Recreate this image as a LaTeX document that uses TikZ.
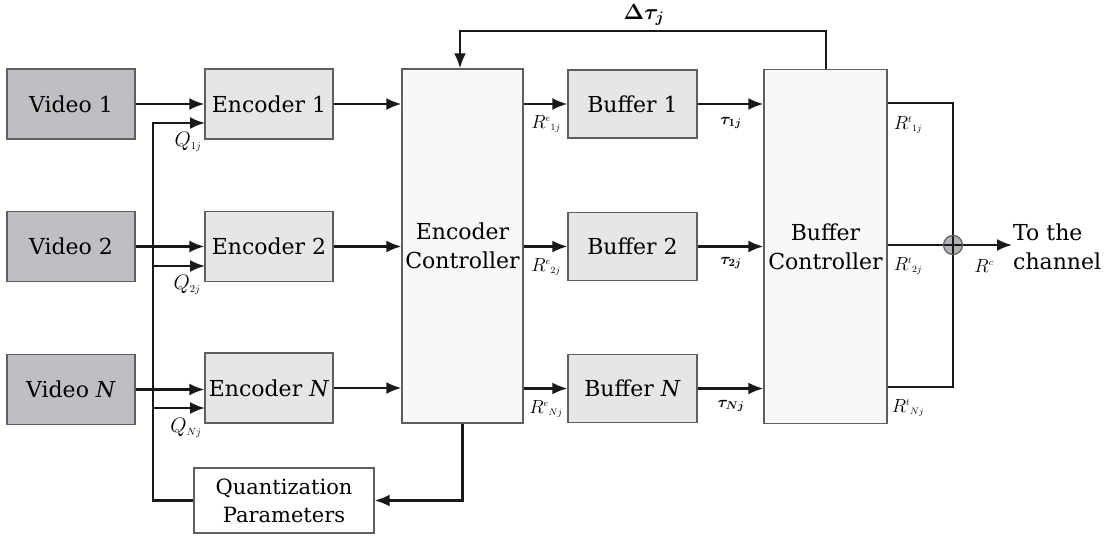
\RequirePackage{fix-cm}
\documentclass[tikz,border=0pt]{standalone}
\usepackage{bm}
\usepackage{fontspec}
\setmainfont{DejaVu Serif}
\usetikzlibrary{arrows.meta,calc}
\definecolor{vidgray}{RGB}{190,191,195}
\definecolor{encgray}{RGB}{229,230,232}
\definecolor{ctrlwhite}{RGB}{248,248,246}
\definecolor{boxline}{RGB}{95,95,95}
\definecolor{sumgray}{RGB}{178,178,182}
\newcommand\bigtxt{\fontsize{22}{29}\selectfont}
\newcommand\qtxt{\fontsize{21}{25}\selectfont}
\newcommand\rtxt{\fontsize{19}{22}\selectfont}
\newcommand\ttxt{\fontsize{16}{20}\selectfont}
\begin{document}
\begin{tikzpicture}[x=1pt,y=-1pt,
  conn/.style={line width=2.2pt, draw=black!90},
  arr/.style={conn, -{Latex[length=15pt,width=12pt]}},
  blk/.style={draw=boxline, line width=1.3pt, inner sep=0pt, align=center, font=\bigtxt},
  vid/.style={blk, fill=vidgray, minimum width=128pt, minimum height=70pt},
  enc/.style={blk, fill=encgray, minimum width=128pt, minimum height=70pt},
  buf/.style={blk, fill=encgray, minimum width=129pt, minimum height=68pt},
  ctrl/.style={blk, fill=ctrlwhite, minimum height=354pt},
  qbox/.style={blk, fill=white, minimum width=180pt, minimum height=65pt, font=\fontsize{21}{28}\selectfont},
  lblq/.style={font=\qtxt, inner sep=0pt},
  lblr/.style={font=\rtxt, inner sep=0pt},
  lblt/.style={font=\ttxt, inner sep=0pt}
]
\useasboundingbox[fill=white] (0,0) rectangle (1112,538);

% blocks
\node[vid] (v1) at (71,104) {Video 1};
\node[vid] (v2) at (71,246.5) {Video 2};
\node[vid] (vN) at (71,389.5) {Video \textit{N}};
\node[enc] (e1) at (269,104) {Encoder 1};
\node[enc] (e2) at (269,246.5) {Encoder 2};
\node[enc] (eN) at (269,388) {Encoder \textit{N}};
\node[ctrl, minimum width=121pt] (ec) at (462.5,246) {Encoder\\Controller};
\node[buf] (b1) at (632.5,104) {Buffer 1};
\node[buf] (b2) at (632.5,246.5) {Buffer 2};
\node[buf] (bN) at (632.5,388.5) {Buffer \textit{N}};
\node[ctrl, minimum width=123pt] (bc) at (825.5,246.5) {Buffer\\Controller};
\node[qbox] (qp) at (284,500.5) {Quantization\\Parameters};
\node[circle, fill=sumgray, minimum size=19pt, inner sep=0pt] (sum) at (953,245) {};

% coordinates
\coordinate (bus1) at (153,123);
\coordinate (bus2) at (153,266);
\coordinate (busN) at (153,408);
\coordinate (q1) at (205,123);
\coordinate (q2) at (205,266);
\coordinate (qN) at (205,408);
\coordinate (t1) at (953,103);
\coordinate (tN) at (953,387);
\coordinate (out) at (1012,245);
\coordinate (fbR) at (826,31);
\coordinate (fbL) at (460,31);

% video -> encoder
\draw[arr] (v1.east) -- (v1.east -| e1.west);
\draw[arr] (v2.east) -- (v2.east -| e2.west);
\draw[arr] (vN.east) -- (vN.east -| eN.west);

% quantization bus
\draw[arr] (qp.west) -| (bus1) -- (q1);
\draw[arr] (bus2) -- (q2);
\draw[arr] (busN) -- (qN);

% encoder -> encoder controller
\draw[arr] (e1.east) -- (e1.east -| ec.west);
\draw[arr] (e2.east) -- (e2.east -| ec.west);
\draw[arr] (eN.east) -- (eN.east -| ec.west);

% encoder controller -> buffers
\draw[arr] (ec.east |- b1.west) -- (b1.west);
\draw[arr] (ec.east |- b2.west) -- (b2.west);
\draw[arr] (ec.east |- bN.west) -- (bN.west);

% buffers -> buffer controller
\draw[arr] (b1.east) -- (b1.east -| bc.west);
\draw[arr] (b2.east) -- (b2.east -| bc.west);
\draw[arr] (bN.east) -- (bN.east -| bc.west);

% buffer controller -> sum
\draw[conn] (bc.east |- t1) -- (t1) -- (tN) -- (bc.east |- tN);
\draw[conn] (bc.east |- sum) -- (sum.center);
\draw[arr] (sum.center) -- (out);
\draw[draw=boxline, line width=1.2pt] (sum.center) circle (9.5pt);

% feedback
\draw[arr] (bc.north -| fbR) -- (fbR) -- (fbL) -- (fbL |- ec.north);

% encoder controller -> quantization parameters
\draw[arr] (ec.south) |- (qp.east);

% labels
\node[lblq] (lq1) at (188,142) {$Q_{\scriptscriptstyle 1j}$};
\node[lblq] (lq2) at (187,285) {$Q_{\scriptscriptstyle 2j}$};
\node[lblq] (lqN) at (186,428) {$Q_{\scriptscriptstyle Nj}$};
\node[lblr] (lre1) at (546,124) {$R^{\scriptscriptstyle e}{}_{\scriptscriptstyle 1j}$};
\node[lblr] (lre2) at (546,267) {$R^{\scriptscriptstyle e}{}_{\scriptscriptstyle 2j}$};
\node[lblr] (lreN) at (546,409) {$R^{\scriptscriptstyle e}{}_{\scriptscriptstyle Nj}$};
\node[lblt] (lt1) at (731,123) {$\bm{\tau}_{\bm{\scriptstyle 1j}}$};
\node[lblt] (lt2) at (731,263) {$\bm{\tau}_{\bm{\scriptstyle 2j}}$};
\node[lblt] (ltN) at (731,406) {$\bm{\tau}_{\bm{\scriptstyle Nj}}$};
\node[lblr] (lrt1) at (908,125) {$R^{\scriptscriptstyle t}{}_{\scriptscriptstyle 1j}$};
\node[lblr] (lrt2) at (908,266) {$R^{\scriptscriptstyle t}{}_{\scriptscriptstyle 2j}$};
\node[lblr] (lrtN) at (908,408) {$R^{\scriptscriptstyle t}{}_{\scriptscriptstyle Nj}$};
\node[lblr] (lrc) at (984,266) {$R^{\scriptscriptstyle c}$};
\node[font=\fontsize{22}{26}\selectfont, inner sep=0pt] (ldt) at (644,15) {$\bm{\Delta\tau_{\scriptstyle j}}$};
\node[font=\bigtxt, align=left, anchor=west, inner sep=0pt] (lout) at ($(out)+(1,2)$) {To the\\channel};
\end{tikzpicture}
\end{document}
